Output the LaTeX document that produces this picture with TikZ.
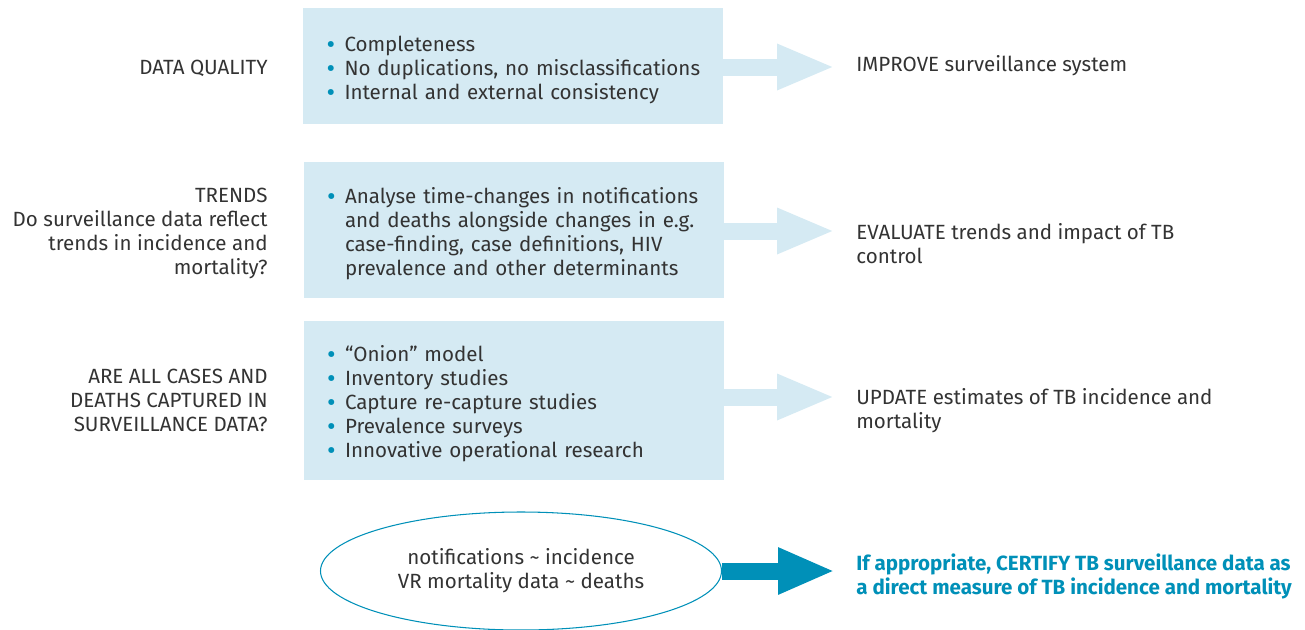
\documentclass[tikz,border=0pt]{standalone}
\usepackage{fontspec}
\setmainfont{Fira Sans}
\usepackage{xcolor}
\usepackage{tikz}
\usetikzlibrary{arrows.meta,positioning,shapes.geometric,calc}

\definecolor{boxblue}{RGB}{213,234,243}
\definecolor{tbteal}{RGB}{0,144,184}
\definecolor{txtgray}{RGB}{51,51,51}
\newcommand{\tbul}{\makebox[0.36cm][l]{\textcolor{tbteal}{\fontsize{15}{15}\selectfont\raisebox{-0.15ex}{\textbullet}}}}
\newcommand{\boxlist}[1]{\raisebox{-0.09cm}[\height][\depth]{\begin{tabular}{@{}l@{}l@{}}#1\end{tabular}}}

\begin{document}
\begin{tikzpicture}[
    font=\fontsize{11.7}{13.66}\selectfont, text=txtgray,
    qbox/.style={rectangle, fill=boxblue, minimum width=8.4cm, text width=7.46cm, inner xsep=0.47cm, align=left},
    lefttext/.style={anchor=east, align=right, inner sep=0pt},
    righttext/.style={anchor=west, align=left, inner sep=0pt},
    flow/.style={-{Triangle[length=1.16cm, width=0.84cm]}, line width=0.34cm, boxblue},
    bigflow/.style={-{Triangle[length=1.14cm, width=0.86cm]}, line width=0.34cm, tbteal}
]
\useasboundingbox (0,0) rectangle (26.1,-12.58);

% row 1
\node[lefttext] (dq) at (5.36,-1.36) {DATA QUALITY};
\node[qbox, minimum height=2.32cm] (dqbox) at (10.26,-1.32) {\boxlist{
\tbul & Completeness\\
\tbul & No duplications, no misclassifications\\
\tbul & Internal and external consistency}};
\node[righttext] (improve) at (17.12,-1.32) {IMPROVE surveillance system};
\coordinate (tip1) at (16.7,-1.34);
\draw[flow] (dqbox.east |- tip1) -- (tip1);

% row 2
\node[lefttext] (trends) at (5.36,-4.67) {TRENDS\\Do surveillance data reflect\\trends in incidence and\\mortality?};
\node[qbox, minimum height=2.72cm] (trbox) at (10.27,-4.6) {\boxlist{
\tbul & Analyse time-changes in notifications\\
 & and deaths alongside changes in e.g.\\
 & case-finding, case definitions, HIV\\
 & prevalence and other determinants}};
\node[righttext] (evaluate) at (17.12,-4.87) {EVALUATE trends and impact of TB\\control};
\coordinate (tip2) at (16.7,-4.62);
\draw[flow] (trbox.east |- tip2) -- (tip2);

% row 3
\node[lefttext] (cases) at (5.36,-8.0) {ARE ALL CASES AND\\DEATHS CAPTURED IN\\SURVEILLANCE DATA?};
\node[qbox, minimum height=3.18cm] (cabox) at (10.27,-8.01) {\boxlist{
\tbul & ``Onion'' model\\
\tbul & Inventory studies\\
\tbul & Capture re-capture studies\\
\tbul & Prevalence surveys\\
\tbul & Innovative operational research}};
\node[righttext] (update) at (17.12,-8.22) {UPDATE estimates of TB incidence and\\mortality};
\coordinate (tip3) at (16.7,-7.94);
\draw[flow] (cabox.east |- tip3) -- (tip3);

% certification
\node[ellipse, draw=tbteal, line width=0.6pt, minimum width=8.02cm, minimum height=2.36cm, align=center] (ident) at (10.42,-11.42) {notifications \textasciitilde{} incidence\\VR mortality data \textasciitilde{} deaths};
\node[righttext, text=tbteal, font=\fontsize{11.7}{13.66}\selectfont\bfseries] (certify) at (17.12,-11.52) {If appropriate, CERTIFY TB surveillance data as\\a direct measure of TB incidence and mortality};
\coordinate (tip4) at (16.7,-11.42);
\draw[bigflow] (ident.east) -- (tip4);
\end{tikzpicture}
\end{document}
